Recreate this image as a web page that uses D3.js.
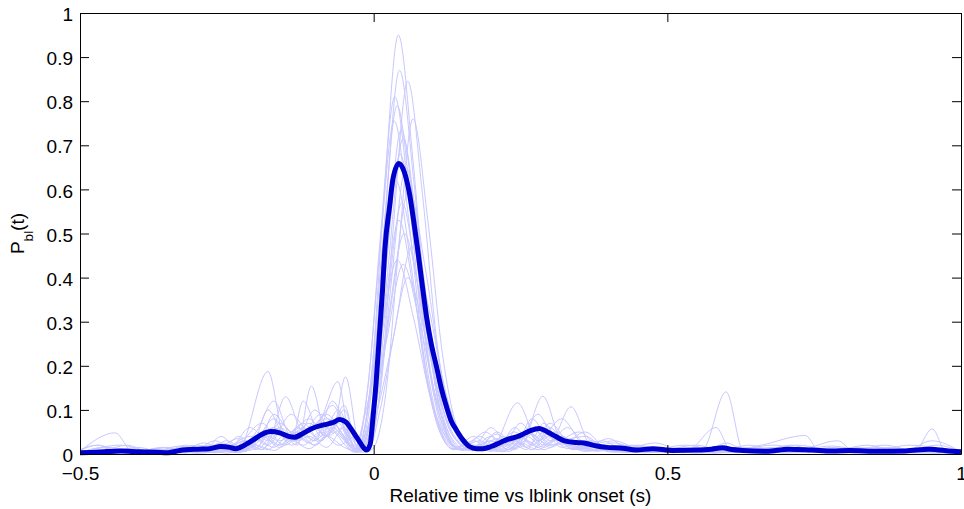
<!DOCTYPE html>
<html><head><meta charset="utf-8">
<script src="https://cdn.jsdelivr.net/npm/d3@7"></script>
<style>
body{margin:0;background:#fff}
svg{display:block}
text{font-family:"Liberation Sans",Arial,Helvetica,sans-serif;fill:#000}
</style>
</head><body>
<svg id="chart" width="964" height="509"></svg>
<script>
// ---------- data ----------
const xTicks = [-0.5, 0, 0.5, 1];
const xTickLabels = ["\u22120.5", "0", "0.5", "1"];
const yTicks = [0, 0.1, 0.2, 0.3, 0.4, 0.5, 0.6, 0.7, 0.8, 0.9, 1];
const yTickLabels = ["0", "0.1", "0.2", "0.3", "0.4", "0.5", "0.6", "0.7", "0.8", "0.9", "1"];
const xLabel = "Relative time vs lblink onset (s)";

const meanTime = [-0.5,-0.47,-0.43,-0.40,-0.37,-0.35,-0.33,-0.30,-0.28,-0.26,-0.245,-0.235,-0.22,-0.205,-0.19,-0.175,-0.16,-0.145,-0.135,-0.12,-0.105,-0.085,-0.07,-0.058,-0.048,-0.035,-0.025,-0.017,-0.012,-0.006,-0.001,0.004,0.010,0.015,0.019,0.027,0.033,0.043,0.052,0.061,0.068,0.075,0.083,0.090,0.098,0.107,0.115,0.124,0.132,0.141,0.152,0.163,0.175,0.186,0.20,0.214,0.226,0.248,0.265,0.282,0.296,0.311,0.325,0.345,0.362,0.38,0.396,0.424,0.447,0.475,0.509,0.549,0.575,0.594,0.61,0.628,0.668,0.707,0.747,0.781,0.81,0.861,0.906,0.946,0.985,1.0];
const meanValue = [0.003,0.004,0.007,0.005,0.004,0.003,0.008,0.011,0.012,0.017,0.015,0.012,0.020,0.032,0.045,0.051,0.048,0.040,0.038,0.047,0.058,0.066,0.071,0.078,0.073,0.050,0.030,0.014,0.009,0.022,0.085,0.16,0.274,0.37,0.463,0.56,0.625,0.659,0.64,0.59,0.53,0.463,0.38,0.311,0.25,0.198,0.15,0.107,0.075,0.054,0.032,0.017,0.012,0.012,0.017,0.025,0.032,0.041,0.052,0.058,0.050,0.039,0.030,0.026,0.024,0.018,0.015,0.013,0.009,0.012,0.008,0.009,0.011,0.014,0.010,0.008,0.006,0.011,0.009,0.007,0.008,0.006,0.007,0.011,0.006,0.005];

const trial01 = [[-0.5,0.01],[-0.47,0.02],[-0.44,0.005],[-0.38,0.003],[-0.33,0.012],[-0.28,0.004],[-0.24,0.02],[-0.2,0.01],[-0.16,0.06],[-0.13,0.03],[-0.09,0.09],[-0.06,0.05],[-0.035,0.01],[-0.028,0.005],[-0.003,0.19],[0.017,0.57],[0.042,0.95],[0.067,0.665],[0.092,0.285],[0.117,0.076],[0.142,0.015],[0.17,0.03],[0.2,0.01],[0.24,0.05],[0.27,0.02],[0.3,0.07],[0.34,0.015],[0.4,0.01],[0.45,0.02],[0.5,0.004],[0.58,0.01],[0.65,0.004],[0.72,0.02],[0.8,0.005],[0.88,0.012],[0.95,0.004],[1.0,0.006]];
const trial02 = [[-0.5,0.004],[-0.45,0.015],[-0.4,0.002],[-0.34,0.01],[-0.3,0.003],[-0.26,0.025],[-0.22,0.008],[-0.18,0.04],[-0.15,0.02],[-0.11,0.07],[-0.08,0.04],[-0.05,0.1],[-0.03,0.02],[-0.026,0.01],[-0.001,0.174],[0.019,0.522],[0.044,0.87],[0.069,0.61],[0.094,0.26],[0.119,0.07],[0.144,0.012],[0.18,0.02],[0.21,0.045],[0.24,0.015],[0.28,0.09],[0.31,0.03],[0.36,0.04],[0.4,0.008],[0.47,0.015],[0.55,0.003],[0.62,0.015],[0.7,0.004],[0.78,0.018],[0.85,0.003],[0.93,0.01],[1.0,0.003]];
const trial03 = [[-0.5,0.002],[-0.46,0.01],[-0.41,0.003],[-0.36,0.015],[-0.31,0.004],[-0.27,0.03],[-0.24,0.01],[-0.2,0.05],[-0.17,0.12],[-0.14,0.04],[-0.1,0.06],[-0.07,0.11],[-0.04,0.03],[-0.02,0.01],[-0.012,0.008],[0.013,0.17],[0.033,0.507],[0.058,0.845],[0.083,0.59],[0.108,0.25],[0.133,0.068],[0.158,0.02],[0.19,0.05],[0.22,0.02],[0.25,0.07],[0.28,0.03],[0.32,0.08],[0.36,0.02],[0.41,0.03],[0.46,0.006],[0.53,0.02],[0.6,0.005],[0.68,0.02],[0.75,0.004],[0.82,0.015],[0.9,0.005],[0.96,0.02],[1.0,0.004]];
const trial04 = [[-0.5,0.006],[-0.44,0.048],[-0.41,0.004],[-0.36,0.003],[-0.32,0.02],[-0.28,0.005],[-0.25,0.015],[-0.21,0.04],[-0.18,0.02],[-0.14,0.09],[-0.11,0.05],[-0.08,0.08],[-0.05,0.04],[-0.034,0.008],[-0.009,0.162],[0.011,0.486],[0.036,0.81],[0.061,0.567],[0.086,0.243],[0.111,0.065],[0.136,0.01],[0.17,0.015],[0.2,0.06],[0.23,0.02],[0.26,0.05],[0.3,0.02],[0.35,0.05],[0.39,0.01],[0.44,0.02],[0.5,0.004],[0.56,0.01],[0.6,0.141],[0.63,0.005],[0.7,0.01],[0.77,0.003],[0.84,0.02],[0.9,0.004],[1.0,0.005]];
const trial05 = [[-0.5,0.003],[-0.43,0.02],[-0.38,0.004],[-0.33,0.018],[-0.29,0.006],[-0.26,0.04],[-0.23,0.012],[-0.18,0.187],[-0.15,0.03],[-0.12,0.06],[-0.09,0.03],[-0.06,0.07],[-0.04,0.02],[-0.03,0.006],[-0.005,0.158],[0.015,0.474],[0.04,0.79],[0.065,0.553],[0.09,0.237],[0.115,0.063],[0.14,0.015],[0.17,0.04],[0.2,0.012],[0.245,0.116],[0.28,0.03],[0.31,0.05],[0.35,0.01],[0.41,0.025],[0.46,0.004],[0.52,0.012],[0.58,0.003],[0.66,0.02],[0.735,0.042],[0.76,0.005],[0.83,0.01],[0.9,0.003],[0.95,0.03],[1.0,0.005]];
const trial06 = [[-0.5,0.002],[-0.42,0.01],[-0.37,0.002],[-0.31,0.012],[-0.27,0.003],[-0.23,0.02],[-0.19,0.07],[-0.16,0.03],[-0.13,0.05],[-0.1,0.02],[-0.07,0.06],[-0.04,0.02],[-0.02,0.004],[-0.003,0.01],[0.022,0.152],[0.042,0.456],[0.067,0.76],[0.092,0.532],[0.117,0.228],[0.142,0.061],[0.167,0.015],[0.2,0.03],[0.23,0.01],[0.27,0.06],[0.3,0.025],[0.336,0.107],[0.37,0.02],[0.42,0.01],[0.48,0.025],[0.53,0.004],[0.6,0.01],[0.67,0.003],[0.74,0.01],[0.8,0.003],[0.87,0.02],[0.93,0.004],[1.0,0.003]];
const trial07 = [[-0.5,0.008],[-0.47,0.02],[-0.42,0.004],[-0.35,0.008],[-0.3,0.02],[-0.26,0.006],[-0.22,0.03],[-0.19,0.01],[-0.16,0.05],[-0.13,0.02],[-0.106,0.154],[-0.08,0.04],[-0.05,0.06],[-0.03,0.006],[-0.01,0.151],[0.01,0.453],[0.035,0.755],[0.06,0.528],[0.085,0.227],[0.11,0.06],[0.135,0.012],[0.16,0.02],[0.19,0.008],[0.22,0.04],[0.25,0.015],[0.288,0.131],[0.32,0.03],[0.36,0.015],[0.4,0.035],[0.44,0.005],[0.5,0.01],[0.57,0.003],[0.64,0.015],[0.71,0.004],[0.79,0.03],[0.82,0.004],[0.88,0.01],[0.94,0.003],[1.0,0.004]];
const trial08 = [[-0.5,0.004],[-0.45,0.01],[-0.4,0.003],[-0.36,0.015],[-0.32,0.005],[-0.28,0.02],[-0.25,0.005],[-0.21,0.06],[-0.18,0.03],[-0.15,0.13],[-0.12,0.05],[-0.09,0.08],[-0.061,0.164],[-0.04,0.03],[-0.023,0.008],[0.002,0.147],[0.022,0.441],[0.047,0.735],[0.072,0.515],[0.097,0.22],[0.122,0.059],[0.147,0.012],[0.18,0.03],[0.21,0.01],[0.24,0.06],[0.27,0.02],[0.3,0.05],[0.34,0.01],[0.39,0.03],[0.43,0.005],[0.5,0.015],[0.56,0.003],[0.6,0.025],[0.64,0.004],[0.7,0.01],[0.77,0.003],[0.86,0.015],[0.92,0.003],[0.951,0.057],[0.975,0.004],[1.0,0.004]];
const trial09 = [[-0.5,0.003],[-0.46,0.015],[-0.41,0.003],[-0.37,0.01],[-0.33,0.003],[-0.29,0.025],[-0.25,0.01],[-0.22,0.03],[-0.19,0.01],[-0.16,0.07],[-0.13,0.04],[-0.1,0.1],[-0.07,0.05],[-0.048,0.175],[-0.025,0.02],[-0.02,0.01],[0.005,0.143],[0.025,0.429],[0.05,0.715],[0.075,0.5],[0.1,0.215],[0.125,0.057],[0.15,0.012],[0.18,0.015],[0.21,0.05],[0.24,0.02],[0.27,0.08],[0.3,0.03],[0.33,0.06],[0.37,0.01],[0.42,0.02],[0.47,0.004],[0.55,0.02],[0.6,0.004],[0.66,0.012],[0.72,0.003],[0.78,0.015],[0.85,0.004],[0.91,0.02],[1.0,0.004]];
const trial10 = [[-0.5,0.002],[-0.44,0.012],[-0.39,0.002],[-0.34,0.008],[-0.3,0.002],[-0.27,0.015],[-0.24,0.004],[-0.2,0.03],[-0.17,0.08],[-0.14,0.03],[-0.11,0.05],[-0.08,0.09],[-0.05,0.04],[-0.03,0.01],[-0.025,0.008],[0.0,0.136],[0.02,0.408],[0.045,0.68],[0.07,0.476],[0.095,0.204],[0.12,0.054],[0.145,0.01],[0.17,0.02],[0.2,0.006],[0.23,0.03],[0.26,0.01],[0.29,0.07],[0.32,0.02],[0.36,0.05],[0.4,0.01],[0.45,0.015],[0.51,0.003],[0.58,0.012],[0.65,0.003],[0.71,0.02],[0.76,0.004],[0.83,0.012],[0.9,0.003],[0.95,0.015],[1.0,0.003]];
const trial11 = [[-0.5,0.005],[-0.46,0.008],[-0.42,0.02],[-0.38,0.004],[-0.33,0.006],[-0.29,0.015],[-0.26,0.005],[-0.23,0.04],[-0.2,0.015],[-0.17,0.06],[-0.14,0.03],[-0.12,0.12],[-0.09,0.04],[-0.06,0.1],[-0.035,0.03],[-0.015,0.008],[0.01,0.13],[0.03,0.39],[0.055,0.65],[0.08,0.455],[0.105,0.195],[0.13,0.052],[0.155,0.02],[0.18,0.04],[0.21,0.015],[0.24,0.03],[0.27,0.01],[0.3,0.06],[0.33,0.02],[0.37,0.03],[0.41,0.006],[0.47,0.01],[0.53,0.003],[0.583,0.06],[0.61,0.004],[0.68,0.015],[0.74,0.003],[0.8,0.01],[0.87,0.003],[0.94,0.01],[1.0,0.003]];
const trial12 = [[-0.5,0.003],[-0.45,0.006],[-0.4,0.015],[-0.36,0.003],[-0.31,0.012],[-0.27,0.003],[-0.24,0.02],[-0.21,0.008],[-0.18,0.1],[-0.15,0.04],[-0.12,0.07],[-0.09,0.03],[-0.06,0.08],[-0.04,0.02],[-0.032,0.005],[-0.007,0.124],[0.013,0.372],[0.038,0.62],[0.063,0.434],[0.088,0.186],[0.113,0.05],[0.138,0.01],[0.17,0.015],[0.2,0.04],[0.23,0.01],[0.26,0.04],[0.29,0.015],[0.32,0.04],[0.36,0.008],[0.41,0.015],[0.46,0.003],[0.52,0.01],[0.58,0.003],[0.64,0.02],[0.69,0.004],[0.75,0.01],[0.81,0.003],[0.88,0.015],[0.93,0.004],[1.0,0.003]];
const trial13 = [[-0.5,0.002],[-0.45,0.01],[-0.41,0.002],[-0.37,0.012],[-0.33,0.003],[-0.28,0.01],[-0.25,0.03],[-0.22,0.01],[-0.19,0.05],[-0.16,0.02],[-0.13,0.06],[-0.1,0.03],[-0.07,0.07],[-0.04,0.02],[-0.02,0.01],[0.005,0.12],[0.032,0.36],[0.06,0.6],[0.088,0.42],[0.116,0.18],[0.144,0.05],[0.172,0.012],[0.2,0.03],[0.23,0.01],[0.26,0.05],[0.29,0.02],[0.32,0.04],[0.35,0.015],[0.39,0.02],[0.44,0.004],[0.5,0.012],[0.56,0.003],[0.62,0.015],[0.67,0.003],[0.73,0.012],[0.79,0.003],[0.85,0.01],[0.92,0.003],[0.97,0.012],[1.0,0.004]];
const trial14 = [[-0.5,0.004],[-0.44,0.01],[-0.4,0.003],[-0.35,0.015],[-0.31,0.004],[-0.27,0.01],[-0.23,0.035],[-0.2,0.012],[-0.17,0.09],[-0.14,0.05],[-0.11,0.08],[-0.08,0.04],[-0.05,0.11],[-0.03,0.02],[-0.022,0.006],[0.003,0.114],[0.023,0.342],[0.048,0.57],[0.073,0.4],[0.098,0.171],[0.123,0.046],[0.148,0.01],[0.18,0.012],[0.21,0.035],[0.24,0.012],[0.27,0.06],[0.3,0.02],[0.34,0.03],[0.38,0.006],[0.43,0.02],[0.48,0.004],[0.54,0.01],[0.6,0.003],[0.66,0.012],[0.72,0.003],[0.78,0.01],[0.84,0.003],[0.9,0.012],[0.95,0.003],[1.0,0.005]];
const trial15 = [[-0.5,0.003],[-0.46,0.01],[-0.42,0.003],[-0.37,0.006],[-0.32,0.015],[-0.28,0.004],[-0.25,0.02],[-0.22,0.006],[-0.19,0.04],[-0.16,0.02],[-0.13,0.05],[-0.1,0.03],[-0.07,0.12],[-0.04,0.03],[-0.027,0.008],[-0.002,0.106],[0.018,0.318],[0.043,0.53],[0.068,0.371],[0.093,0.159],[0.118,0.042],[0.143,0.01],[0.17,0.02],[0.2,0.008],[0.23,0.04],[0.26,0.015],[0.29,0.05],[0.32,0.015],[0.36,0.03],[0.4,0.005],[0.46,0.012],[0.52,0.003],[0.57,0.012],[0.62,0.003],[0.69,0.012],[0.75,0.003],[0.8,0.012],[0.86,0.003],[0.92,0.01],[1.0,0.003]];
const trial16 = [[-0.5,0.002],[-0.45,0.008],[-0.4,0.002],[-0.35,0.01],[-0.3,0.003],[-0.26,0.012],[-0.23,0.004],[-0.2,0.03],[-0.17,0.06],[-0.14,0.02],[-0.11,0.04],[-0.08,0.015],[-0.05,0.06],[-0.03,0.01],[-0.025,0.008],[0.0,0.1],[0.024,0.3],[0.052,0.5],[0.08,0.35],[0.108,0.15],[0.136,0.04],[0.164,0.01],[0.19,0.02],[0.22,0.008],[0.25,0.04],[0.28,0.015],[0.31,0.045],[0.34,0.012],[0.38,0.02],[0.43,0.004],[0.49,0.01],[0.55,0.003],[0.61,0.01],[0.66,0.003],[0.72,0.015],[0.77,0.003],[0.83,0.01],[0.89,0.003],[0.95,0.012],[1.0,0.003]];
const trial17 = [[-0.5,0.003],[-0.45,0.008],[-0.4,0.002],[-0.36,0.01],[-0.32,0.003],[-0.28,0.008],[-0.25,0.002],[-0.21,0.025],[-0.18,0.01],[-0.15,0.045],[-0.12,0.02],[-0.09,0.05],[-0.06,0.02],[-0.03,0.04],[-0.01,0.006],[0.01,0.094],[0.036,0.282],[0.065,0.47],[0.094,0.33],[0.122,0.141],[0.15,0.038],[0.178,0.01],[0.21,0.025],[0.24,0.01],[0.27,0.045],[0.3,0.015],[0.33,0.03],[0.37,0.008],[0.42,0.015],[0.47,0.003],[0.53,0.01],[0.59,0.003],[0.65,0.01],[0.71,0.003],[0.77,0.012],[0.83,0.003],[0.9,0.01],[0.96,0.003],[1.0,0.004]];
const trial18 = [[-0.5,0.002],[-0.46,0.006],[-0.41,0.002],[-0.36,0.008],[-0.32,0.002],[-0.27,0.012],[-0.24,0.004],[-0.2,0.035],[-0.17,0.015],[-0.14,0.05],[-0.11,0.025],[-0.08,0.06],[-0.05,0.03],[-0.035,0.005],[-0.015,0.088],[0.012,0.264],[0.04,0.44],[0.068,0.308],[0.096,0.132],[0.124,0.035],[0.152,0.008],[0.18,0.02],[0.21,0.006],[0.24,0.03],[0.27,0.01],[0.3,0.04],[0.33,0.012],[0.37,0.02],[0.41,0.004],[0.47,0.01],[0.53,0.003],[0.59,0.012],[0.64,0.003],[0.7,0.01],[0.76,0.003],[0.82,0.01],[0.88,0.003],[0.94,0.01],[1.0,0.003]];
const trial19 = [[-0.5,0.003],[-0.45,0.005],[-0.41,0.012],[-0.37,0.003],[-0.33,0.008],[-0.29,0.002],[-0.25,0.015],[-0.22,0.005],[-0.19,0.04],[-0.16,0.015],[-0.13,0.04],[-0.1,0.02],[-0.07,0.05],[-0.045,0.015],[-0.03,0.004],[-0.005,0.086],[0.022,0.258],[0.05,0.43],[0.078,0.301],[0.106,0.129],[0.134,0.034],[0.162,0.008],[0.19,0.015],[0.22,0.005],[0.25,0.025],[0.28,0.01],[0.31,0.035],[0.34,0.01],[0.38,0.015],[0.43,0.003],[0.49,0.008],[0.55,0.002],[0.61,0.008],[0.67,0.002],[0.73,0.01],[0.79,0.002],[0.86,0.008],[0.92,0.002],[1.0,0.003]];
const trial20 = [[-0.5,0.002],[-0.44,0.006],[-0.39,0.002],[-0.34,0.006],[-0.3,0.002],[-0.26,0.01],[-0.23,0.003],[-0.2,0.02],[-0.17,0.008],[-0.14,0.03],[-0.11,0.012],[-0.08,0.04],[-0.05,0.015],[-0.025,0.004],[0.002,0.08],[0.03,0.24],[0.058,0.4],[0.086,0.28],[0.114,0.12],[0.142,0.032],[0.17,0.008],[0.2,0.02],[0.23,0.006],[0.26,0.03],[0.29,0.01],[0.32,0.025],[0.36,0.006],[0.41,0.012],[0.46,0.003],[0.52,0.008],[0.58,0.002],[0.64,0.01],[0.7,0.002],[0.76,0.008],[0.82,0.002],[0.89,0.008],[0.95,0.002],[1.0,0.003]];

const trials = [trial01,trial02,trial03,trial04,trial05,trial06,trial07,trial08,trial09,trial10,
                trial11,trial12,trial13,trial14,trial15,trial16,trial17,trial18,trial19,trial20];

// ---------- drawing ----------
const svg = d3.select("#chart");
const L = 80, R = 961, T = 13, B = 454;
const x = d3.scaleLinear().domain([-0.5, 1]).range([L, R]);
const y = d3.scaleLinear().domain([0, 1]).range([B, T]);
const FS = 19;

svg.append("defs").append("clipPath").attr("id", "plotclip")
  .append("rect").attr("x", L).attr("y", T).attr("width", R - L).attr("height", B - T + 3);

const plot = svg.append("g").attr("clip-path", "url(#plotclip)");

const line = d3.line().x(d => x(d[0])).y(d => y(d[1])).curve(d3.curveMonotoneX);

plot.selectAll("path.trial").data(trials).enter().append("path")
  .attr("class", "trial")
  .attr("d", line)
  .attr("fill", "none")
  .attr("stroke", "#c8c8ff")
  .attr("stroke-width", 1);

const meanData = meanTime.map((t, i) => [t, meanValue[i]]);
plot.append("path")
  .attr("d", line(meanData))
  .attr("fill", "none")
  .attr("stroke", "#0000cc")
  .attr("stroke-width", 5)
  .attr("stroke-linejoin", "round");

// axes (box with inward ticks)
const gx = svg.append("g").attr("transform", `translate(0,${B})`)
  .call(d3.axisBottom(x).tickValues(xTicks).tickFormat((d, i) => xTickLabels[i])
        .tickSizeInner(-9).tickSizeOuter(0).tickPadding(13));
const gxt = svg.append("g").attr("transform", `translate(0,${T})`)
  .call(d3.axisTop(x).tickValues(xTicks).tickFormat("").tickSizeInner(-9).tickSizeOuter(0));
const gy = svg.append("g").attr("transform", `translate(${L},0)`)
  .call(d3.axisLeft(y).tickValues(yTicks).tickFormat((d, i) => yTickLabels[i])
        .tickSizeInner(-9).tickSizeOuter(0).tickPadding(7));
const gyr = svg.append("g").attr("transform", `translate(${R},0)`)
  .call(d3.axisRight(y).tickValues(yTicks).tickFormat("").tickSizeInner(-9).tickSizeOuter(0));

[gx, gxt, gy, gyr].forEach(g => {
  g.selectAll("path.domain").attr("stroke", "#000").attr("stroke-width", 1);
  g.selectAll(".tick line").attr("stroke", "#000").attr("stroke-width", 1);
  g.selectAll("text").style("font-family", '"Liberation Sans", Arial, Helvetica, sans-serif')
    .style("font-size", FS + "px").attr("fill", "#000");
});
gy.selectAll("text").attr("dy", "0.4em");

// axis labels
svg.append("text")
  .attr("x", (L + R) / 2).attr("y", 501.5)
  .attr("text-anchor", "middle")
  .style("font-size", FS + "px")
  .text(xLabel);

const yl = svg.append("text")
  .attr("transform", `translate(23.5,${(T + B) / 2}) rotate(-90)`)
  .attr("text-anchor", "middle")
  .style("font-size", FS + "px");
yl.append("tspan").text("P");
yl.append("tspan").attr("dy", 9).style("font-size", "13.5px").text("bl");
yl.append("tspan").attr("dy", -9).text("(t)");
</script>
</body></html>
